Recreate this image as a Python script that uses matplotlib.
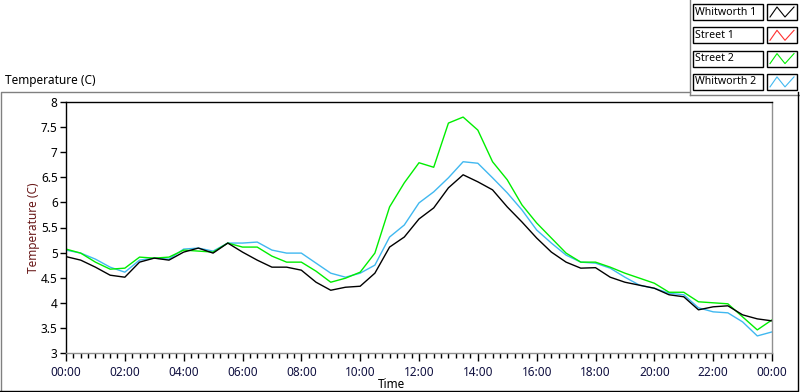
import matplotlib
matplotlib.use("Agg")
import matplotlib.pyplot as plt
from matplotlib.patches import Rectangle
from matplotlib.ticker import MultipleLocator, FuncFormatter

plt.rcParams['font.family'] = ['Noto Sans', 'DejaVu Sans']

# half-hourly readings, 00:00 .. 24:00
hours = [i * 0.5 for i in range(49)]

whitworth1 = [4.92, 4.85, 4.71, 4.55, 4.51, 4.81, 4.89, 4.85, 5.01, 5.09,
              4.99, 5.19, 5.01, 4.85, 4.71, 4.71, 4.65, 4.41, 4.25, 4.31,
              4.33, 4.59, 5.11, 5.31, 5.67, 5.89, 6.29, 6.55, 6.41, 6.25,
              5.91, 5.61, 5.29, 5.01, 4.81, 4.69, 4.70, 4.51, 4.41, 4.35,
              4.29, 4.16, 4.12, 3.86, 3.92, 3.94, 3.76, 3.68, 3.64]
street1 = []
street2 = [5.07, 4.99, 4.81, 4.67, 4.69, 4.91, 4.89, 4.91, 5.05, 5.03,
           5.01, 5.19, 5.11, 5.11, 4.93, 4.81, 4.81, 4.63, 4.41, 4.49,
           4.61, 4.99, 5.91, 6.39, 6.79, 6.70, 7.58, 7.70, 7.44, 6.81,
           6.45, 5.95, 5.59, 5.29, 4.99, 4.81, 4.81, 4.71, 4.59, 4.49,
           4.39, 4.21, 4.21, 4.02, 4.00, 3.98, 3.72, 3.46, 3.66]
whitworth2 = [5.05, 4.99, 4.87, 4.71, 4.61, 4.85, 4.89, 4.87, 5.07, 5.09,
              5.03, 5.19, 5.19, 5.21, 5.05, 4.99, 4.99, 4.79, 4.59, 4.51,
              4.59, 4.75, 5.31, 5.55, 5.99, 6.21, 6.49, 6.81, 6.78, 6.49,
              6.19, 5.85, 5.45, 5.19, 4.95, 4.81, 4.79, 4.69, 4.51, 4.35,
              4.29, 4.19, 4.16, 3.90, 3.82, 3.80, 3.62, 3.34, 3.42]

names = ['Whitworth 1', 'Street 1', 'Street 2', 'Whitworth 2']
colors = ['#000000', '#ff3030', '#00ee00', '#40b8f0']

W, H = 800, 392
fig = plt.figure(figsize=(8, 3.92), dpi=100)

# pixel overlay for the panel frame, labels and legend
ov = fig.add_axes([0, 0, 1, 1])
ov.set_xlim(0, W)
ov.set_ylim(H, 0)
ov.axis('off')
ov.plot([0.5, 0.5, 690], [391, 92, 92], color='#808080', lw=1)
ov.plot([690, 690], [0, 95], color='#808080', lw=1)
ov.plot([690, 799], [95, 95], color='#808080', lw=1)
ov.plot([798, 798, 0], [92, 391, 391], color='#000000', lw=1)
ov.text(5, 80, 'Temperature (C)', fontsize=8.5, va='center', ha='left')
ov.text(392, 384, 'Time', fontsize=8.5, va='center', ha='center')
ov.text(33, 228, 'Temperature (C)', fontsize=8.5, va='center', ha='center',
        rotation=90, color='#6a1a1a')

for i, (nm, c) in enumerate(zip(names, colors)):
    y0 = 4 + i * 23.3
    ov.add_patch(Rectangle((693, y0), 70, 16, fill=False, ec='#000000', lw=1))
    ov.add_patch(Rectangle((767, y0), 30, 16, fill=False, ec='#000000', lw=1))
    ov.text(695, y0 + 8, nm, fontsize=7.6, va='center', ha='left')
    ov.plot([770, 777, 785, 794], [y0 + 13, y0 + 3, y0 + 13, y0 + 3], color=c, lw=0.8)

# main chart
ax = fig.add_axes([66 / W, 1 - 353 / H, 706 / W, 251 / H])
ax.plot(hours, whitworth2, color=colors[3], lw=1)
ax.plot(hours, street2, color=colors[2], lw=1)
ax.plot(hours[:len(street1)], street1, color=colors[1], lw=1)
ax.plot(hours, whitworth1, color=colors[0], lw=1)

ax.set_xlim(0, 24)
ax.set_ylim(3, 8)
ax.yaxis.set_major_locator(MultipleLocator(0.5))
ax.yaxis.set_major_formatter(FuncFormatter(lambda v, p: ('%g' % v)))
ax.xaxis.set_major_locator(MultipleLocator(2))
ax.xaxis.set_minor_locator(MultipleLocator(0.25))
ax.xaxis.set_major_formatter(FuncFormatter(lambda v, p: '%02d:00' % (int(round(v)) % 24)))
ax.tick_params(axis='y', direction='out', length=4, width=1, labelsize=8.5, pad=2)
ax.tick_params(axis='x', which='major', direction='out', length=6, width=1, labelsize=8.5, pad=3)
ax.tick_params(axis='x', which='minor', direction='out', length=3.5, width=1)
ax.tick_params(axis='x', labelcolor='#101040')

ax.spines['left'].set_color('#000000')
ax.spines['top'].set_color('#000000')
ax.spines['right'].set_color('#909090')
ax.spines['bottom'].set_color('#909090')
for s in ax.spines.values():
    s.set_linewidth(1)

fig.savefig('out.png', dpi=100)
